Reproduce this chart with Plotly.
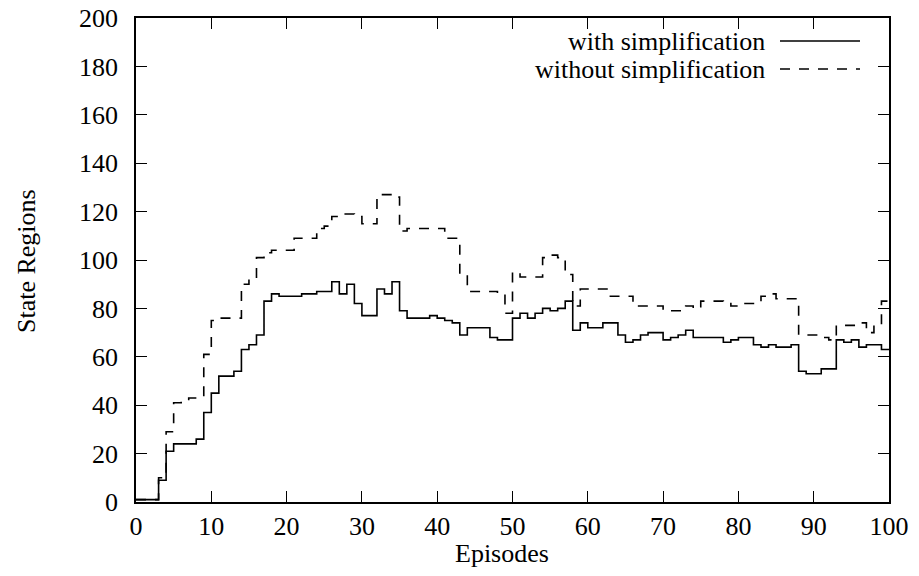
import plotly.graph_objects as go

# Episode boundaries (0..100); each value holds for [episode, episode+1)
episodes = list(range(101))

with_simplification = [
    1, 1, 1, 9, 21, 24, 24, 24, 26, 37,
    45, 52, 52, 54, 63, 65, 69, 83, 86, 85,
    85, 85, 86, 86, 87, 87, 91, 86, 90, 82,
    77, 77, 88, 86, 91, 79, 76, 76, 76, 77,
    76, 75, 74, 69, 72, 72, 72, 68, 67, 67,
    76, 78, 76, 78, 80, 79, 80, 83, 71, 74,
    72, 72, 74, 74, 69, 66, 67, 69, 70, 70,
    67, 68, 69, 71, 68, 68, 68, 68, 66, 67,
    68, 68, 65, 64, 65, 64, 64, 65, 54, 53,
    53, 55, 55, 67, 66, 67, 64, 65, 65, 63,
]

without_simplification = [
    1, 1, 1, 10, 29, 41, 42, 43, 43, 61,
    75, 76, 76, 76, 90, 92, 101, 103, 104, 104,
    104, 109, 109, 109, 113, 114, 118, 119, 119, 118,
    115, 115, 127, 127, 126, 112, 113, 113, 113, 113,
    113, 109, 109, 94, 87, 87, 87, 87, 86, 78,
    95, 93, 93, 93, 101, 102, 101, 94, 81, 88,
    88, 88, 88, 85, 85, 85, 81, 81, 81, 81,
    79, 79, 79, 81, 80, 83, 83, 83, 82, 81,
    82, 82, 82, 85, 86, 84, 84, 84, 69, 69,
    69, 68, 67, 73, 73, 73, 74, 70, 73, 83,
]

series_names = ["with simplification", "without simplification"]

FONT = "Liberation Serif"
FS = 26
DASH = "10px,9px"

W, H = 919, 576
# desired plot area on screen (page body margin is removed below)
SX0, SX1, SY0, SY1 = 136, 889, 18, 502
L, T = SX0, SY0
PW, PH = SX1 - SX0, SY1 - SY0
R = W - L - PW
B = H - T - PH


def px2paper(x, y):
    return (x - SX0) / PW, (SY1 - y) / PH


fig = go.Figure()
fig.add_trace(go.Scatter(
    x=episodes, y=with_simplification + [with_simplification[-1]],
    mode="lines", line_shape="hv", name=series_names[0],
    line=dict(color="black", width=1.6), showlegend=False,
))
fig.add_trace(go.Scatter(
    x=episodes, y=without_simplification + [without_simplification[-1]],
    mode="lines", line_shape="hv", name=series_names[1],
    line=dict(color="black", width=1.6, dash=DASH), showlegend=False,
))

axis_common = dict(
    showgrid=False, zeroline=False, showline=True, linecolor="black",
    linewidth=1.5, mirror="allticks", ticks="inside", ticklen=11,
    tickwidth=1.2, tickcolor="black", automargin=False,
    ticklabeloverflow="allow",
    tickfont=dict(family=FONT, size=FS, color="black"),
)

fig.update_xaxes(range=[0, 100], tick0=0, dtick=10, ticklabelstandoff=0, **axis_common)
fig.update_yaxes(range=[0, 200], tick0=0, dtick=20, ticklabelstandoff=11, **axis_common)

annotations = []
shapes = []
# legend (gnuplot style: text right-aligned, sample on the right)
for i, (name, dash) in enumerate(zip(series_names, ["solid", DASH])):
    ypix = 41 + 28 * i
    tx, ty = px2paper(767, ypix)
    annotations.append(dict(
        x=tx, y=ty, xref="paper", yref="paper", text=name, showarrow=False,
        xanchor="right", yanchor="middle",
        font=dict(family=FONT, size=FS, color="black"),
    ))
    x0, y0 = px2paper(780, ypix)
    x1, _ = px2paper(860, ypix)
    shapes.append(dict(
        type="line", xref="paper", yref="paper", x0=x0, x1=x1, y0=y0, y1=y0,
        line=dict(color="black", width=1.6, dash=dash),
    ))

# axis titles
ex, ey = px2paper(502, 553)
annotations.append(dict(
    x=ex, y=ey, xref="paper", yref="paper", text="Episodes", showarrow=False,
    xanchor="center", yanchor="middle",
    font=dict(family=FONT, size=FS, color="black"),
))
sx, sy = px2paper(26, 261)
annotations.append(dict(
    x=sx, y=sy, xref="paper", yref="paper", text="State Regions", showarrow=False,
    xanchor="center", yanchor="middle", textangle=-90,
    font=dict(family=FONT, size=FS, color="black"),
))

fig.update_layout(
    width=W, height=H,
    margin=dict(l=L, r=R, t=T, b=B, autoexpand=False),
    paper_bgcolor="white", plot_bgcolor="white",
    annotations=annotations, shapes=shapes,
    showlegend=False,
)

fig.write_html(
    "out.html",
    config={"displayModeBar": False},
    post_script="document.body.style.margin='0';document.body.style.padding='0';",
)
